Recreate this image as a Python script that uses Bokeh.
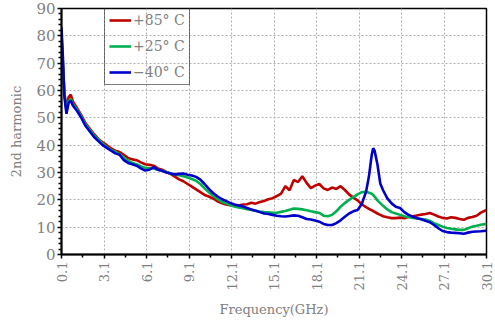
import math
from bokeh.plotting import figure
from bokeh.models import FixedTicker, Legend, LegendItem, Range1d
from bokeh.embed import file_html
from bokeh.resources import INLINE

freq = [0.1, 0.2, 0.3, 0.45, 0.6, 0.75, 0.9, 1.2, 1.5, 1.8,
        2.1, 2.4, 2.7, 3.0, 3.3, 3.6, 3.9, 4.2, 4.5, 4.8,
        5.1, 5.4, 5.7, 6.0, 6.3, 6.6, 6.9, 7.2, 7.5, 7.8,
        8.1, 8.4, 8.7, 9.0, 9.3, 9.6, 9.9, 10.2, 10.5, 10.8,
        11.1, 11.4, 11.7, 12.0, 12.3, 12.6, 12.9, 13.2, 13.5, 13.8,
        14.1, 14.4, 14.7, 15.0, 15.3, 15.6, 15.9, 16.2, 16.5, 16.8,
        17.1, 17.4, 17.7, 18.0, 18.3, 18.6, 18.9, 19.2, 19.5, 19.8,
        20.1, 20.4, 20.7, 21.0, 21.3, 21.6, 21.8, 22.0, 22.1, 22.2,
        22.4, 22.6, 22.8, 23.1, 23.4, 23.7, 24.0, 24.3, 24.6, 24.9,
        25.2, 25.5, 25.8, 26.1, 26.4, 26.7, 27.0, 27.3, 27.6, 27.9,
        28.2, 28.5, 28.8, 29.1, 29.4, 29.7, 30.1]

h_p85 = [79, 69, 59.5, 53, 57.5, 58.5, 56, 53.5, 51, 48,
         46, 44, 42.3, 41, 40, 38.8, 38, 37.5, 36.5, 35.3,
         34.8, 34.5, 33.7, 33, 32.8, 32.5, 31.5, 31, 30.2, 29.5,
         28.5, 27.5, 26.8, 25.8, 24.8, 23.8, 22.8, 21.8, 21.2, 20.5,
         19.5, 18.8, 18.3, 18.0, 17.9, 17.9, 18.3, 18.4, 18.9, 18.6,
         19.2, 19.6, 20.2, 20.6, 21.4, 22.3, 25, 23.5, 27.3, 26.5,
         28.6, 26.2, 24.3, 25.2, 25.8, 24.2, 23.6, 24.5, 24.0, 25.0,
         23.6, 22.0, 20.8, 19.8, 18.3, 17.3, 16.7, 16.2, 15.9, 15.6,
         15.0, 14.5, 14.0, 13.6, 13.3, 13.3, 13.5, 13.3, 13.8, 14.0,
         14.3, 14.6, 14.8, 15.2, 14.6, 13.9, 13.4, 13.2, 13.6, 13.4,
         13.0, 12.7, 13.4, 13.7, 14.2, 15.3, 16.3]

h_p25 = [81, 70, 59, 52.5, 56, 57, 55, 53, 50.5, 47.5,
         45.5, 43.5, 42, 40.5, 39.3, 38.3, 37.5, 36.7, 35.5, 34.3,
         33.5, 33, 32.3, 31.7, 31.5, 31.5, 31, 30.6, 30.2, 29.7,
         29.2, 29, 28.6, 28.2, 27.6, 27, 25.8, 24.2, 22.8, 21.5,
         20.3, 19.3, 18.7, 18.1, 17.6, 17.2, 16.9, 16.6, 16.3, 16.0,
         15.7, 15.5, 15.4, 15.3, 15.3, 15.6, 15.9, 16.4, 16.8, 16.7,
         16.5, 16.2, 15.8, 15.5, 15.2, 14.2, 14.0, 14.5, 15.8, 17.5,
         18.8, 20, 21.0, 22.0, 22.8, 23.0, 22.6, 22.2, 21.8, 21.2,
         19.8, 18.8, 17.8, 16.5, 15.5, 15.0, 14.5, 14.0, 13.6, 13.4,
         13.2, 13.0, 12.8, 12.3, 11.5, 10.8, 10.2, 9.7, 9.4, 9.2,
         9.0, 9.0, 9.6, 10.2, 10.5, 10.9, 11.2]

h_m40 = [83, 72, 58, 51.5, 55.5, 56.3, 54.5, 52.5, 50, 47,
         45, 43, 41.5, 40, 39, 38, 37, 36.5, 34.5, 33.5,
         33, 32.5, 31.5, 30.7, 31, 32, 31, 30.6, 30, 29.6,
         29.3, 29.5, 29.6, 29.2, 28.9, 28.4, 27.4, 25.8, 24, 22.5,
         21.3, 20.3, 19.6, 18.9, 18.3, 17.9, 17.6, 17.0, 16.5, 16.0,
         15.5, 15.0, 14.8, 14.5, 14.2, 14.0, 13.9, 14.1, 14.3, 14.2,
         13.6, 13.0, 12.8, 12.4, 12.0, 11.2, 10.8, 10.8, 11.5, 12.5,
         13.8, 15.0, 15.8, 16.3, 18.5, 23, 28.5, 36.5, 38.9, 38,
         33, 26, 23.5, 20.5, 18.7, 17.5, 17.0, 15.5, 14.5, 13.8,
         13.3, 12.9, 12.3, 11.8, 10.8, 9.6, 8.6, 8.2, 8.0, 7.9,
         7.8, 7.6, 8.0, 8.3, 8.4, 8.5, 8.7]

series_labels = ["+85° C", "+25° C", "−40° C"]
series_colors = ["#C00000", "#00B050", "#0000CC"]

x_ticks = [0.1, 3.1, 6.1, 9.1, 12.1, 15.1, 18.1, 21.1, 24.1, 27.1, 30.1]
x_minor = [1.6, 4.6, 7.6, 10.6, 13.6, 16.6, 19.6, 22.6, 25.6, 28.6]
y_ticks = [0, 10, 20, 30, 40, 50, 60, 70, 80, 90]
y_minor = [v for v in range(0, 91, 2) if v % 10 != 0]

FONT = "DejaVu Serif"
GRAY = "#808080"

p = figure(width=495, height=320, x_range=Range1d(0.1, 30.1), y_range=Range1d(0, 90),
           output_backend="svg", toolbar_location=None,
           min_border_left=61, min_border_right=9, min_border_top=8, min_border_bottom=65)

renderers = []
for ys, col in zip([h_p85, h_p25, h_m40], series_colors):
    r = p.line(freq, ys, line_color=col, line_width=2.6)
    renderers.append(r)

p.xaxis.ticker = FixedTicker(ticks=x_ticks, minor_ticks=x_minor)
p.yaxis.ticker = FixedTicker(ticks=y_ticks, minor_ticks=y_minor)
p.xaxis.major_label_overrides = {t: "%.1f" % t for t in x_ticks}
p.xaxis.major_label_orientation = math.pi / 2

for ax in (p.xaxis, p.yaxis):
    ax.axis_line_color = "black"
    ax.axis_line_width = 2
    ax.major_tick_line_color = "black"
    ax.minor_tick_line_color = "black"
    ax.major_tick_line_width = 1.5
    ax.minor_tick_line_width = 1.5
    ax.major_tick_in = 0
    ax.minor_tick_in = 0
    ax.major_tick_out = 4
    ax.minor_tick_out = 3
    ax.major_label_text_font = FONT
    ax.major_label_text_color = GRAY
    ax.axis_label_text_font = FONT
    ax.axis_label_text_font_size = "13px"
    ax.axis_label_text_color = GRAY
    ax.axis_label_text_font_style = "normal"

p.xaxis.major_label_text_font_size = "13px"
p.yaxis.major_label_text_font_size = "15px"
p.xaxis.axis_label = "Frequency(GHz)"
p.yaxis.axis_label = "2nd harmonic"
p.xaxis.major_label_standoff = 3
p.yaxis.major_label_standoff = 2
p.xaxis.axis_label_standoff = 9
p.yaxis.axis_label_standoff = 9

p.xgrid.grid_line_color = "#b0b0b0"
p.ygrid.grid_line_color = "#b0b0b0"
p.xgrid.grid_line_dash = "2 2"
p.ygrid.grid_line_dash = "2 2"
p.xgrid.grid_line_width = 1
p.ygrid.grid_line_width = 1

p.outline_line_color = "black"
p.outline_line_width = 1.5
p.background_fill_color = "white"
p.border_fill_color = "white"

legend = Legend(items=[LegendItem(label=lab, renderers=[r]) for lab, r in zip(series_labels, renderers)],
                location=(43, 169))
legend.border_line_color = "black"
legend.border_line_width = 1.5
legend.background_fill_alpha = 0
legend.padding = 4
legend.spacing = 10
legend.label_height = 16
legend.glyph_height = 16
legend.glyph_width = 22
legend.label_standoff = 2
legend.margin = 0
legend.label_text_font = FONT
legend.label_text_font_size = "14px"
legend.label_text_color = GRAY
p.add_layout(legend)

open("out.html", "w").write(file_html(p, INLINE))
